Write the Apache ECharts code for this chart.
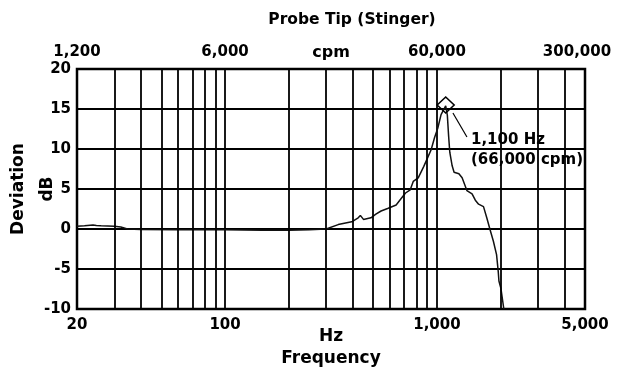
<!DOCTYPE html>
<html><head><meta charset="utf-8">
<script src="https://cdn.jsdelivr.net/npm/echarts@6/dist/echarts.min.js"></script>
<style>html,body{margin:0;padding:0;background:#fff}#c{width:617px;height:374px}</style>
</head><body><div id="c"></div>
<script>
// ---- data ----
const freqHz = [20, 21.7, 23.8, 24.7, 26, 30, 32.2, 34.6, 40, 60, 100, 150, 200, 250, 300,
  305, 342, 396, 425, 435, 450, 488, 515, 545, 589, 642, 675, 711, 748, 773, 816, 866, 900, 939,
  974, 1009, 1046, 1100, 1120, 1135, 1150, 1180, 1205, 1270, 1315, 1385, 1465, 1518, 1573, 1602,
  1659, 1719, 1782, 1846, 1912, 1947, 1962, 2004, 2039, 2069];
const deviationDb = [0.35, 0.4, 0.5, 0.45, 0.4, 0.35, 0.25, 0.0, -0.05, -0.1, -0.1, -0.15, -0.15, -0.1, 0.0,
  0.1, 0.55, 0.9, 1.4, 1.7, 1.2, 1.4, 1.85, 2.25, 2.6, 3.0, 3.75, 4.5, 4.9, 5.95, 6.4, 7.8, 8.8, 9.9,
  11.4, 12.6, 14.3, 15.4, 14.2, 11.7, 9.6, 7.9, 7.1, 6.9, 6.4, 4.8, 4.4, 3.6, 3.1, 3.0,
  2.8, 1.4, -0.1, -1.5, -3.2, -5.3, -6.5, -7.4, -7.6, -10];
const majorTickHz = [20, 100, 1000, 5000];
const minorGridHz = [30, 40, 50, 60, 70, 80, 90, 200, 300, 400, 500, 600, 700, 800, 900, 2000, 3000, 4000];
const peakHz = 1100;
const peakDb = 15.5;
const cpmPerHz = 60;

function fmt(v) { return Math.round(v).toString().replace(/\B(?=(\d{3})+(?!\d))/g, ','); }
const FONT = 'DejaVu Sans';
const txt = (size, extra) => Object.assign({fontFamily: FONT, fontWeight: 'bold', fontSize: size, color: '#000'}, extra || {});
const maxHz = majorTickHz[majorTickHz.length - 1];

const chart = echarts.init(document.getElementById('c'), null, {renderer: 'canvas'});
chart.setOption({
  animation: false,
  backgroundColor: '#fff',
  title: {text: 'Probe Tip (Stinger)', left: 347, top: 7, textAlign: 'center', textStyle: txt(15.5)},
  grid: {left: 77, right: 32, top: 69, bottom: 65, show: true, borderColor: '#000', borderWidth: 2.5,
    containLabel: false, outerBoundsMode: 'none'},
  xAxis: [{
    type: 'log', logBase: 10, min: majorTickHz[0], max: maxHz, position: 'bottom',
    axisLine: {show: false}, axisTick: {show: false},
    axisLabel: txt(15, {formatter: fmt, margin: 9, showMinLabel: true, showMaxLabel: true}),
    splitLine: {show: true, lineStyle: {color: '#000', width: 1.8}},
    name: 'Hz\nFrequency', nameLocation: 'middle', nameGap: 17, nameMoveOverlap: false,
    nameTextStyle: txt(17, {lineHeight: 22})
  }, {
    type: 'log', logBase: 10, min: majorTickHz[0], max: maxHz, position: 'top',
    axisLine: {show: false}, axisTick: {show: false},
    axisLabel: txt(15, {
      formatter: v => Math.round(v) === maxHz ? '{r|' + fmt(v * cpmPerHz) + '}' : fmt(v * cpmPerHz),
      rich: {r: txt(15, {padding: [0, 16, 0, 0]})},
      margin: 9, showMinLabel: true, showMaxLabel: true}),
    splitLine: {show: false},
    name: 'cpm', nameLocation: 'middle', nameGap: 8, nameMoveOverlap: false, nameTextStyle: txt(16)
  }],
  yAxis: {
    type: 'value', min: -10, max: 20, interval: 5,
    axisLine: {show: false}, axisTick: {show: false},
    axisLabel: txt(15, {margin: 6}),
    splitLine: {show: true, lineStyle: {color: '#000', width: 1.8}},
    name: 'Deviation\ndB', nameLocation: 'middle', nameGap: 15, nameMoveOverlap: false,
    nameTextStyle: txt(17, {lineHeight: 29})
  },
  series: [{
    type: 'line', xAxisIndex: 0,
    data: freqHz.map((f, i) => [f, deviationDb[i]]),
    symbol: 'none', showSymbol: false, clip: true,
    lineStyle: {color: '#111', width: 1.5},
    markLine: {
      silent: true, symbol: 'none', label: {show: false},
      lineStyle: {color: '#000', width: 1.8, type: 'solid'},
      data: minorGridHz.map(f => ({xAxis: f})).concat([[
        {coord: [1190, 14.5], lineStyle: {width: 1.2}},
        {coord: [1386, 11.5]}
      ]])
    },
    markPoint: {
      silent: true,
      data: [{
        coord: [peakHz, peakDb], symbol: 'diamond', symbolSize: [17, 16],
        itemStyle: {color: 'rgba(0,0,0,0)', borderColor: '#000', borderWidth: 1.5},
        label: {show: false}
      }, {
        coord: [1448, 9.9], symbol: 'rect', symbolSize: 0,
        label: txt(15, {show: true, position: 'inside', align: 'left', verticalAlign: 'middle', lineHeight: 20,
          formatter: fmt(peakHz) + ' Hz\n(' + fmt(peakHz * cpmPerHz) + ' cpm)'})
      }]
    }
  }]
});
</script></body></html>
